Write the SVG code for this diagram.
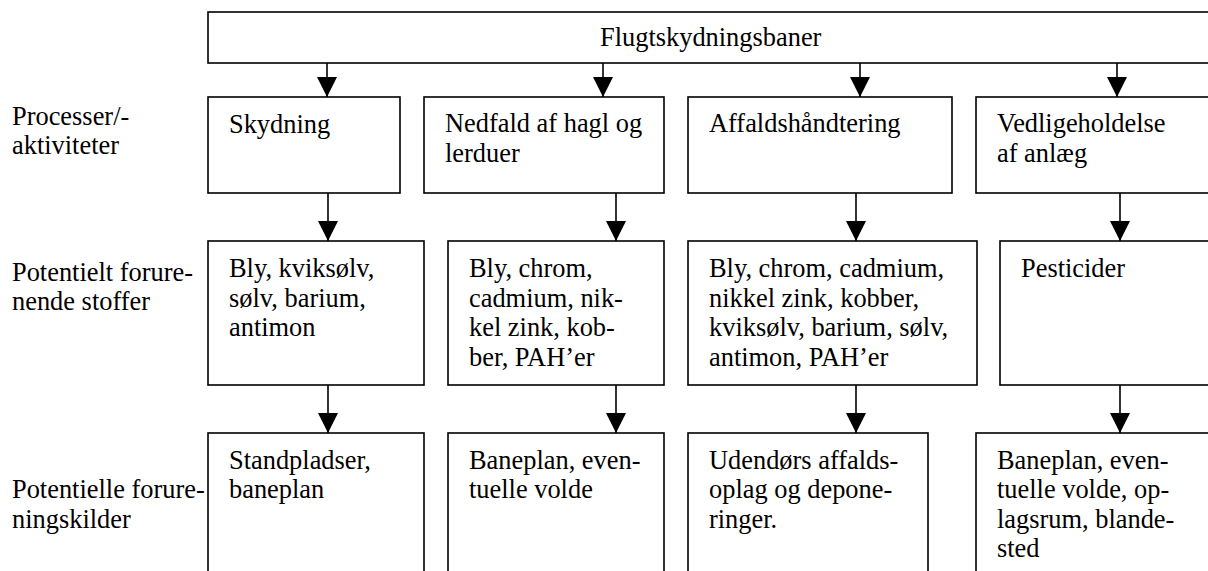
<svg xmlns="http://www.w3.org/2000/svg" width="1208" height="571" viewBox="0 0 1208 571">
<defs>
<style>
.box{fill:#fff;stroke:#000;stroke-width:1.6}
.t{font-family:"Liberation Serif","Times New Roman",serif;font-size:26.4px;fill:#000}
.c{stroke:#000;stroke-width:1.6;fill:none;marker-end:url(#ah)}
</style>
<marker id="ah" markerUnits="userSpaceOnUse" markerWidth="20" markerHeight="20" refX="20" refY="10" orient="auto" viewBox="0 0 20 20">
<path d="M0,0 L20,10 L0,20 z" fill="#000"/>
</marker>
</defs>
<rect width="1208" height="571" fill="#fff"/>

<g id="labels">
<text class="t" x="12" y="125">Processer/-</text>
<text class="t" x="12" y="154">aktiviteter</text>
<text class="t" x="12" y="281">Potentielt forure-</text>
<text class="t" x="12" y="310">nende stoffer</text>
<text class="t" x="12" y="498">Potentielle forure-</text>
<text class="t" x="12" y="528">ningskilder</text>
</g>

<g id="top">
<rect class="box" x="208" y="12" width="1012" height="51"/>
<text class="t" x="600" y="46">Flugtskydningsbaner</text>
</g>

<g id="r1c1">
<rect class="box" x="208" y="97" width="192" height="96"/>
<text class="t" x="229" y="133">Skydning</text>
</g>
<g id="r1c2">
<rect class="box" x="424" y="97" width="240" height="96"/>
<text class="t" x="445" y="132">Nedfald af hagl og</text>
<text class="t" x="445" y="162">lerduer</text>
</g>
<g id="r1c3">
<rect class="box" x="688" y="97" width="264" height="96"/>
<text class="t" x="709" y="132">Affaldshåndtering</text>
</g>
<g id="r1c4">
<rect class="box" x="976" y="97" width="244" height="96"/>
<text class="t" x="997" y="132">Vedligeholdelse</text>
<text class="t" x="997" y="162">af anlæg</text>
</g>

<g id="r2c1">
<rect class="box" x="208" y="241" width="216" height="144"/>
<text class="t" x="229" y="277">Bly, kviksølv,</text>
<text class="t" x="229" y="307">sølv, barium,</text>
<text class="t" x="229" y="336">antimon</text>
</g>
<g id="r2c2">
<rect class="box" x="448" y="241" width="216" height="144"/>
<text class="t" x="469" y="277">Bly, chrom,</text>
<text class="t" x="469" y="307">cadmium, nik-</text>
<text class="t" x="469" y="336">kel zink, kob-</text>
<text class="t" x="469" y="366">ber, PAH’er</text>
</g>
<g id="r2c3">
<rect class="box" x="688" y="241" width="289" height="144"/>
<text class="t" x="709" y="277">Bly, chrom, cadmium,</text>
<text class="t" x="709" y="307">nikkel zink, kobber,</text>
<text class="t" x="709" y="336">kviksølv, barium, sølv,</text>
<text class="t" x="709" y="366">antimon, PAH’er</text>
</g>
<g id="r2c4">
<rect class="box" x="1000" y="241" width="220" height="144"/>
<text class="t" x="1021" y="277">Pesticider</text>
</g>

<g id="r3c1">
<rect class="box" x="208" y="433" width="216" height="180"/>
<text class="t" x="229" y="469">Standpladser,</text>
<text class="t" x="229" y="498">baneplan</text>
</g>
<g id="r3c2">
<rect class="box" x="448" y="433" width="216" height="180"/>
<text class="t" x="469" y="469">Baneplan, even-</text>
<text class="t" x="469" y="498">tuelle volde</text>
</g>
<g id="r3c3">
<rect class="box" x="688" y="433" width="240" height="180"/>
<text class="t" x="709" y="469">Udendørs affalds-</text>
<text class="t" x="709" y="498">oplag og depone-</text>
<text class="t" x="709" y="528">ringer.</text>
</g>
<g id="r3c4">
<rect class="box" x="976" y="433" width="244" height="180"/>
<text class="t" x="997" y="469">Baneplan, even-</text>
<text class="t" x="997" y="498">tuelle volde, op-</text>
<text class="t" x="997" y="528">lagsrum, blande-</text>
<text class="t" x="997" y="557">sted</text>
</g>

<g id="connectors">
<path class="c" d="M327,63 V97"/>
<path class="c" d="M603,63 V97"/>
<path class="c" d="M860,63 V97"/>
<path class="c" d="M1117,63 V97"/>
<path class="c" d="M328,193 V241"/>
<path class="c" d="M616,193 V241"/>
<path class="c" d="M856,193 V241"/>
<path class="c" d="M1120,193 V241"/>
<path class="c" d="M328,385 V433"/>
<path class="c" d="M616,385 V433"/>
<path class="c" d="M856,385 V433"/>
<path class="c" d="M1120,385 V433"/>
</g>
</svg>
